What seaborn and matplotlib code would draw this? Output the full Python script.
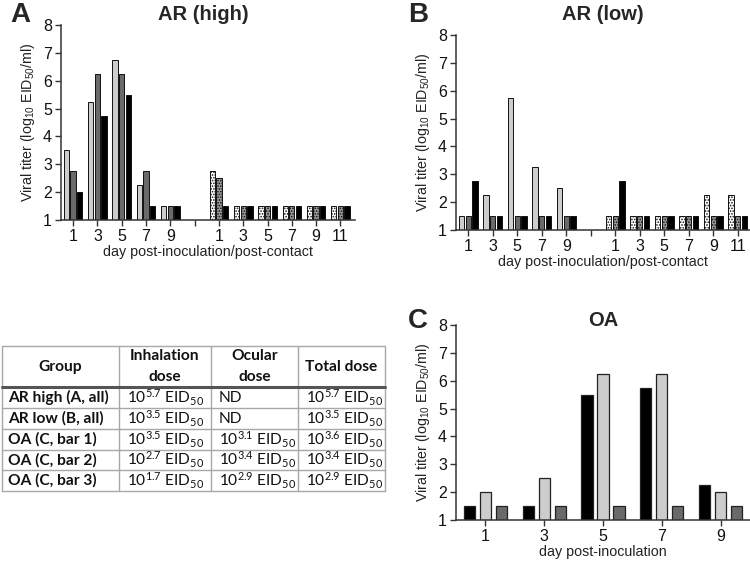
import matplotlib
matplotlib.use("Agg")
import matplotlib.pyplot as plt
import seaborn as sns
import pandas as pd

# ---------------- data ----------------
inoc_days = ["1", "3", "5", "7", "9"]
contact_days = ["1", "3", "5", "7", "9", "11"]

# Panel A: AR (high)
A_inoc_bar1 = [3.5, 5.25, 6.75, 2.25, 1.5]
A_inoc_bar2 = [2.75, 6.25, 6.25, 2.75, 1.5]
A_inoc_bar3 = [2.0, 4.75, 5.5, 1.5, 1.5]
A_cont_bar1 = [2.75, 1.5, 1.5, 1.5, 1.5, 1.5]
A_cont_bar2 = [2.5, 1.5, 1.5, 1.5, 1.5, 1.5]
A_cont_bar3 = [1.5, 1.5, 1.5, 1.5, 1.5, 1.5]

# Panel B: AR (low)
B_inoc_bar1 = [1.5, 2.25, 5.75, 3.25, 2.5]
B_inoc_bar2 = [1.5, 1.5, 1.5, 1.5, 1.5]
B_inoc_bar3 = [2.75, 1.5, 1.5, 1.5, 1.5]
B_cont_bar1 = [1.5, 1.5, 1.5, 1.5, 2.25, 2.25]
B_cont_bar2 = [1.5, 1.5, 1.5, 1.5, 1.5, 1.5]
B_cont_bar3 = [2.75, 1.5, 1.5, 1.5, 1.5, 1.5]

# Panel C: OA
C_days = ["1", "3", "5", "7", "9"]
C_bar1 = [1.5, 1.5, 5.5, 5.75, 2.25]
C_bar2 = [2.0, 2.5, 6.25, 6.25, 2.0]
C_bar3 = [1.5, 1.5, 1.5, 1.5, 1.5]

# Table
table_header = ["Group", "Inhalation\ndose", "Ocular\ndose", "Total dose"]
table_groups = ["AR high (A, all)", "AR low (B, all)", "OA (C, bar 1)", "OA (C, bar 2)", "OA (C, bar 3)"]
table_inhal = ["5.7", "3.5", "3.5", "2.7", "1.7"]
table_ocular = [None, None, "3.1", "3.4", "2.9"]
table_total = ["5.7", "3.5", "3.6", "3.4", "2.9"]

# ---------------- style ----------------
sns.set_style("ticks")
plt.rcParams["font.family"] = ["Liberation Sans", "DejaVu Sans"]
plt.rcParams["mathtext.default"] = "regular"
plt.rcParams["hatch.linewidth"] = 0.8

LIGHT = "#cdcdcd"
DARK = "#6a6a6a"
BLACK = "#000000"
AXC = "#333333"
CF = ["Liberation Sans", "DejaVu Sans"]

W, H = 750, 561
fig = plt.figure(figsize=(7.5, 5.61), dpi=100)


def add_ax(left, top, right, bottom):
    return fig.add_axes([left / W, 1 - bottom / H, (right - left) / W, (bottom - top) / H])


def build_long(inoc, cont):
    rows = []
    for b, vals in enumerate(inoc):
        for d, v in zip(inoc_days, vals):
            rows.append(("i" + d, "b%d" % (b + 1), v))
    for b, vals in enumerate(cont):
        for d, v in zip(contact_days, vals):
            rows.append(("c" + d, "b%d" % (b + 1), v))
    return pd.DataFrame(rows, columns=["cat", "bar", "titer"])


order12 = ["i" + d for d in inoc_days] + ["gap"] + ["c" + d for d in contact_days]
labels12 = inoc_days + [""] + contact_days


def style_axis(ax):
    ax.set_ylim(1, 8)
    ax.set_yticks(range(1, 9))
    for s in ["top", "right"]:
        ax.spines[s].set_visible(False)
    for s in ["left", "bottom"]:
        ax.spines[s].set_color(AXC)
        ax.spines[s].set_linewidth(1.1)
    ax.tick_params(axis="both", colors=AXC, labelcolor="#111111", labelsize=11.5,
                   length=4, width=1.0, pad=2.5)
    for lab in ax.get_xticklabels() + ax.get_yticklabels():
        lab.set_family(CF)
    ax.set_ylabel(r"Viral titer (log$_{10}$ EID$_{50}$/ml)", fontsize=10.3, color="#222222",
                  labelpad=4, family=CF)


def ar_panel(ax, df, xmax):
    sns.barplot(data=df, x="cat", y="titer", hue="bar", order=order12,
                hue_order=["b1", "b2", "b3"], palette=[LIGHT, DARK, BLACK],
                width=0.82, gap=0.2, edgecolor="#111111", linewidth=0.7,
                legend=False, ax=ax, zorder=2)
    for p in ax.patches:
        cx = p.get_x() + p.get_width() / 2
        if cx > 5:
            fc = p.get_facecolor()
            if fc[0] > 0.7:
                p.set_facecolor("#ffffff")
                p.set_hatch("......")
            elif fc[0] > 0.2:
                p.set_facecolor("#9a9a9a")
                p.set_hatch("......")
    ax.set_xticks(range(12))
    ax.set_xticklabels(labels12)
    ax.set_xlim(-0.5, xmax)
    style_axis(ax)
    ax.set_xlabel("day post-inoculation/post-contact", fontsize=10.3, color="#222222",
                  labelpad=0.5, family=CF)


# Panel A
axA = add_ax(61, 25, 355, 220)
ar_panel(axA, build_long([A_inoc_bar1, A_inoc_bar2, A_inoc_bar3],
                         [A_cont_bar1, A_cont_bar2, A_cont_bar3]), 11.6)
fig.text(203 / W, 1 - 15 / H, "AR (high)", ha="center", va="center", fontsize=14.5,
         fontweight="bold", family=CF)
fig.text(20 / W, 1 - 15 / H, "A", ha="center", va="center", fontsize=20, fontweight="bold", family=CF)

# Panel B
axB = add_ax(456, 35, 750, 230)
ar_panel(axB, build_long([B_inoc_bar1, B_inoc_bar2, B_inoc_bar3],
                         [B_cont_bar1, B_cont_bar2, B_cont_bar3]), 11.5)
fig.text(603 / W, 1 - 15 / H, "AR (low)", ha="center", va="center", fontsize=14.5,
         fontweight="bold", family=CF)
fig.text(418 / W, 1 - 15 / H, "B", ha="center", va="center", fontsize=20, fontweight="bold", family=CF)

# Panel C
axC = add_ax(456, 325, 750, 520)
rowsC = []
for b, vals in enumerate([C_bar1, C_bar2, C_bar3]):
    for d, v in zip(C_days, vals):
        rowsC.append((d, "b%d" % (b + 1), v))
dfC = pd.DataFrame(rowsC, columns=["day", "bar", "titer"])
sns.barplot(data=dfC, x="day", y="titer", hue="bar", order=C_days,
            hue_order=["b1", "b2", "b3"], palette=[BLACK, LIGHT, DARK],
            width=0.82, gap=0.3, edgecolor="#222222", linewidth=0.9,
            legend=False, ax=axC, zorder=2)
axC.set_xlim(-0.5, 4.5)
style_axis(axC)
axC.set_xlabel("day post-inoculation", fontsize=10.3, color="#222222", labelpad=0.5, family=CF)
fig.text(603 / W, 1 - 321 / H, "OA", ha="center", va="center", fontsize=14.5,
         fontweight="bold", family=CF)
fig.text(418 / W, 1 - 321 / H, "C", ha="center", va="center", fontsize=20, fontweight="bold", family=CF)

# ---------------- Table ----------------
axT = fig.add_axes([0, 0, 1, 1], zorder=-1)
axT.set_xlim(0, W)
axT.set_ylim(H, 0)
axT.axis("off")

col_x = [2, 119, 211, 298, 385]
row_y = [346, 387, 408, 429, 450, 470, 491]
grid_c = "#a8a8a8"
for x in col_x:
    axT.plot([x, x], [row_y[0], row_y[-1]], color=grid_c, lw=1.0)
for y in row_y:
    axT.plot([col_x[0], col_x[-1]], [y, y], color=grid_c, lw=1.0)
axT.plot([col_x[0], col_x[-1]], [row_y[1], row_y[1]], color="#555555", lw=2.2)

TF = ["Lato", "DejaVu Sans"]
TS = 11.2
hy = (row_y[0] + row_y[1]) / 2
for i, txt in enumerate(table_header):
    cx = (col_x[i] + col_x[i + 1]) / 2
    axT.text(cx, hy, txt, ha="center", va="center", fontsize=TS, fontweight="bold",
             family=TF, linespacing=1.6, color="#111111")


def dose(v):
    if v is None:
        return "ND"
    return r"10$^{%s}$ EID$_{50}$" % v


for r in range(5):
    cy = (row_y[r + 1] + row_y[r + 2]) / 2
    axT.text(8, cy, table_groups[r], ha="left", va="center", fontsize=TS,
             fontweight="bold", family=TF, color="#111111")
    axT.text(127, cy, dose(table_inhal[r]), ha="left", va="center", fontsize=TS, family=TF, color="#111111")
    axT.text(219, cy, dose(table_ocular[r]), ha="left", va="center", fontsize=TS, family=TF, color="#111111")
    axT.text(306, cy, dose(table_total[r]), ha="left", va="center", fontsize=TS, family=TF, color="#111111")

fig.savefig("out.png", dpi=100)
